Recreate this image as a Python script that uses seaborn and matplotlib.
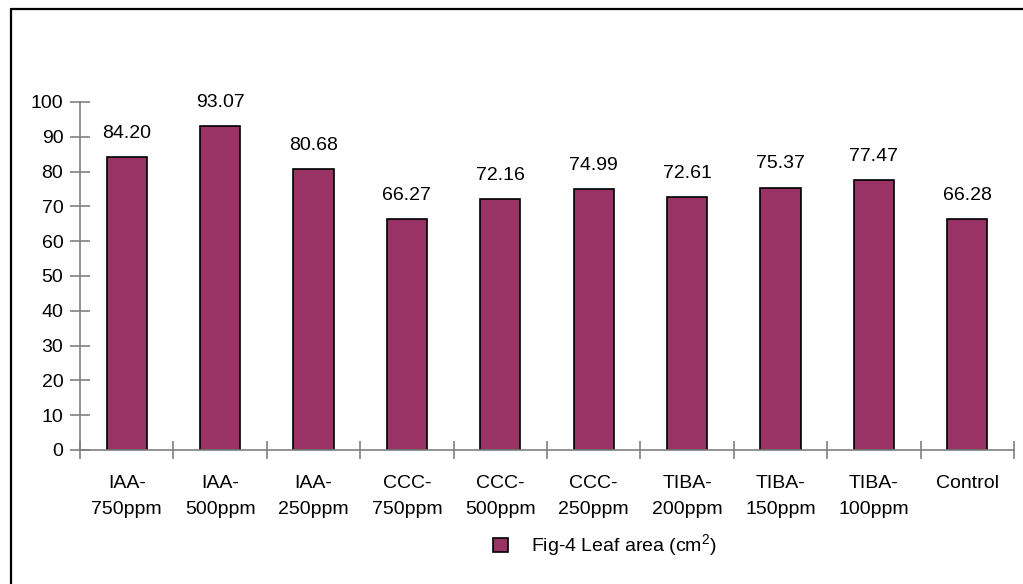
import matplotlib
matplotlib.use("Agg")
import matplotlib.pyplot as plt
from matplotlib.lines import Line2D
import seaborn as sns
import numpy as np

categories = ["IAA-\n750ppm", "IAA-\n500ppm", "IAA-\n250ppm", "CCC-\n750ppm", "CCC-\n500ppm",
              "CCC-\n250ppm", "TIBA-\n200ppm", "TIBA-\n150ppm", "TIBA-\n100ppm", "Control"]
leaf_area = [84.20, 93.07, 80.68, 66.27, 72.16, 74.99, 72.61, 75.37, 77.47, 66.28]
y_ticks = list(range(0, 101, 10))
series_name = "Fig-4 Leaf area (cm$^2$)"

sns.set_theme(style="white")
plt.rcParams["font.family"] = ["Liberation Sans", "DejaVu Sans"]
plt.rcParams["mathtext.fontset"] = "custom"
plt.rcParams["mathtext.rm"] = "Liberation Sans"
plt.rcParams["text.color"] = "black"
plt.rcParams["xtick.labelcolor"] = "black"
plt.rcParams["ytick.labelcolor"] = "black"

fig = plt.figure(figsize=(10.23, 5.84), dpi=100)
ax = fig.add_axes([80 / 1023, 1 - 450 / 584, 934 / 1023, 348 / 584])

sns.barplot(x=categories, y=leaf_area, color="#993366", saturation=1, width=0.43,
            edgecolor="black", linewidth=1.2, ax=ax, label=series_name)

ax.set_ylim(0, 100)
ax.set_xlim(-0.5, len(categories) - 0.5)
ax.set_yticks(y_ticks)
ax.set_xlabel("")
ax.set_ylabel("")

for s in ["top", "right"]:
    ax.spines[s].set_visible(False)
for s in ["left", "bottom"]:
    ax.spines[s].set_color("#808080")
    ax.spines[s].set_linewidth(1.2)

ax.tick_params(axis="y", which="major", direction="inout", length=14, width=1.2,
               color="#808080", labelsize=14, pad=5, left=True, labelcolor="black")
ax.tick_params(axis="x", which="major", length=0, labelsize=14, pad=18, labelcolor="black")
ax.set_xticks(np.arange(-0.5, len(categories)), minor=True)
ax.tick_params(axis="x", which="minor", direction="inout", length=13, width=1.2,
               color="#808080", bottom=True)
for lbl in ax.get_xticklabels():
    lbl.set_linespacing(1.7)
    lbl.set_verticalalignment("top")

for c in ax.containers:
    ax.bar_label(c, fmt="%.2f", padding=11, fontsize=14, color="black")

leg = ax.legend(loc="center", bbox_to_anchor=(0.562, -0.275), frameon=False, fontsize=14,
                handlelength=0.75, handleheight=0.75, handletextpad=1.2)

# frame around the figure (top and left edges)
fig.add_artist(Line2D([10.5 / 1023, 10.5 / 1023], [0, 1 - 8.5 / 584], color="black", lw=1.6))
fig.add_artist(Line2D([10.5 / 1023, 1], [1 - 8.5 / 584, 1 - 8.5 / 584], color="black", lw=1.6))

fig.savefig("out.png", dpi=100, facecolor="white")
